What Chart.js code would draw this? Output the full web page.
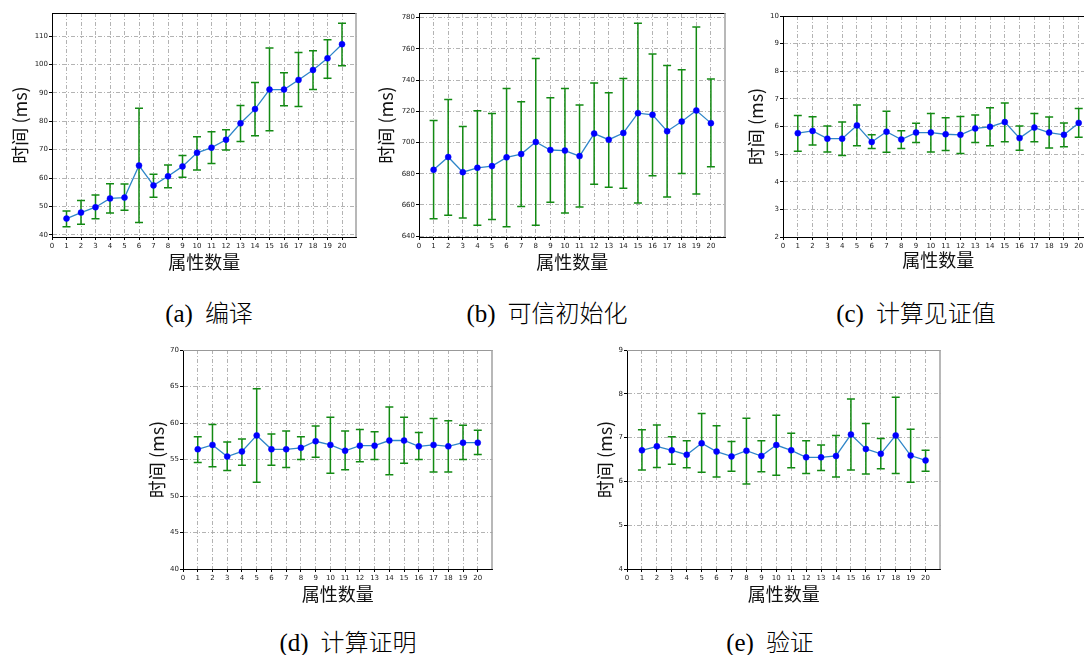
<!DOCTYPE html>
<html>
<head>
<meta charset="utf-8">
<script src="https://cdn.jsdelivr.net/npm/chart.js@4.4.1/dist/chart.umd.min.js"></script>
<style>
  html, body { margin: 0; padding: 0; background: #fff; }
  body { position: relative; width: 1084px; height: 655px; overflow: hidden; }
  canvas { position: absolute; }
  .cap { position: absolute; transform: translate(-50%, -50%); white-space: nowrap;
         font-family: "Liberation Serif", "Noto Sans CJK SC", serif; font-size: 25px; color: #000; }
  .cap .zh { font-family: "Noto Sans CJK SC", sans-serif; font-size: 24px; font-weight: 300; margin-left: 12px; }
</style>
</head>
<body>
<canvas id="cA"></canvas>
<canvas id="cB"></canvas>
<canvas id="cC"></canvas>
<canvas id="cD"></canvas>
<canvas id="cE"></canvas>
<div class="cap" style="left:209px;top:311px">(a)<span class="zh">编译</span></div>
<div class="cap" style="left:547px;top:311px">(b)<span class="zh">可信初始化</span></div>
<div class="cap" style="left:916px;top:311px">(c)<span class="zh">计算见证值</span></div>
<div class="cap" style="left:348px;top:640px">(d)<span class="zh">计算证明</span></div>
<div class="cap" style="left:770px;top:640px">(e)<span class="zh">验证</span></div>
<script>
// Number of attributes (x axis)
const ATTR_COUNTS = [1, 2, 3, 4, 5, 6, 7, 8, 9, 10, 11, 12, 13, 14, 15, 16, 17, 18, 19, 20];
const X_TICKS = [0, 1, 2, 3, 4, 5, 6, 7, 8, 9, 10, 11, 12, 13, 14, 15, 16, 17, 18, 19, 20];

// (a) 编译
const COMPILE_MEAN = [45.7, 47.8, 49.7, 52.8, 53.1, 64.4, 57.4, 60.6, 64.1, 68.9, 70.7, 73.5, 79.3, 84.3, 91.2, 91.2, 94.6, 98.1, 102.2, 107.2];
const COMPILE_LOW  = [42.8, 43.7, 45.6, 47.7, 48.6, 44.3, 53.2, 56.6, 60.3, 62.8, 65.1, 69.9, 72.9, 74.9, 76.7, 85.5, 85.2, 91.2, 95.2, 99.6];
const COMPILE_HIGH = [48.4, 52.1, 54.0, 58.0, 57.9, 84.6, 61.3, 64.6, 67.9, 74.6, 76.3, 77.0, 85.6, 93.7, 105.9, 97.1, 104.3, 104.9, 108.8, 114.6];
const COMPILE_TICKS = [40, 50, 60, 70, 80, 90, 100, 110];

// (b) 可信初始化
const SETUP_MEAN = [682.5, 690.7, 681.0, 683.8, 684.9, 690.5, 692.6, 700.3, 695.2, 694.8, 691.3, 705.7, 701.8, 706.1, 718.8, 717.7, 707.2, 713.4, 720.5, 712.4];
const SETUP_LOW  = [651.2, 653.5, 651.6, 647.1, 650.7, 646.0, 659.1, 647.1, 661.7, 654.8, 658.7, 673.3, 671.4, 670.7, 661.3, 678.7, 665.1, 680.2, 667.1, 684.4];
const SETUP_HIGH = [714.1, 727.6, 710.2, 720.3, 718.6, 734.5, 726.1, 753.8, 728.7, 734.5, 724.0, 738.1, 731.9, 740.9, 776.4, 756.6, 749.3, 746.5, 774.0, 740.7];
const SETUP_TICKS = [640, 660, 680, 700, 720, 740, 760, 780];

// (c) 计算见证值
const WITNESS_MEAN = [5.76, 5.84, 5.56, 5.56, 6.04, 5.44, 5.81, 5.53, 5.78, 5.78, 5.72, 5.70, 5.93, 5.99, 6.16, 5.58, 5.96, 5.78, 5.70, 6.13];
const WITNESS_LOW  = [5.10, 5.33, 5.08, 4.95, 5.30, 5.20, 5.07, 5.20, 5.42, 5.08, 5.13, 5.02, 5.42, 5.30, 5.45, 5.14, 5.45, 5.22, 5.27, 5.61];
const WITNESS_HIGH = [6.40, 6.35, 6.02, 6.16, 6.78, 5.70, 6.55, 5.85, 6.12, 6.47, 6.32, 6.36, 6.42, 6.68, 6.85, 6.02, 6.47, 6.34, 6.13, 6.65];
const WITNESS_TICKS = [2, 3, 4, 5, 6, 7, 8, 9, 10];

// (d) 计算证明
const PROVE_MEAN = [56.4, 57.0, 55.4, 56.1, 58.3, 56.4, 56.4, 56.6, 57.5, 57.0, 56.2, 56.9, 56.9, 57.6, 57.6, 56.8, 57.0, 56.8, 57.3, 57.3];
const PROVE_LOW  = [54.6, 54.0, 53.5, 54.2, 51.9, 54.2, 53.9, 55.0, 55.3, 53.1, 53.6, 54.7, 55.0, 52.9, 54.5, 55.0, 53.3, 53.3, 55.0, 55.7];
const PROVE_HIGH = [58.1, 59.8, 57.4, 57.8, 64.7, 58.5, 58.9, 58.1, 59.6, 60.8, 58.9, 59.1, 58.8, 62.2, 60.8, 58.7, 60.6, 60.3, 59.7, 59.0];
const PROVE_TICKS = [40, 45, 50, 55, 60, 65, 70];

// (e) 验证
const VERIFY_MEAN = [6.71, 6.80, 6.71, 6.61, 6.87, 6.68, 6.57, 6.70, 6.58, 6.83, 6.71, 6.55, 6.55, 6.58, 7.07, 6.74, 6.63, 7.05, 6.59, 6.48];
const VERIFY_LOW  = [6.26, 6.32, 6.39, 6.31, 6.21, 6.10, 6.23, 5.94, 6.22, 6.14, 6.31, 6.18, 6.25, 6.10, 6.26, 6.17, 6.29, 6.18, 5.98, 6.23];
const VERIFY_HIGH = [7.18, 7.29, 7.02, 6.93, 7.55, 7.27, 6.91, 7.44, 6.93, 7.51, 7.10, 6.93, 6.83, 7.05, 7.88, 7.32, 6.98, 7.92, 7.19, 6.71];
const VERIFY_TICKS = [4, 5, 6, 7, 8, 9];

const X_TITLE = '属性数量';
const Y_TITLE = '时间 (ms)';

Chart.defaults.font.family = '"DejaVu Sans", sans-serif';
Chart.defaults.color = '#222';

// Vertical error bars with caps, drawn beneath the line and markers
const errorBarPlugin = {
  id: 'errorBars',
  beforeDatasetsDraw(chart) {
    const { ctx, scales: { x, y } } = chart;
    const ds = chart.data.datasets[0];
    ctx.save();
    ctx.strokeStyle = '#138a13';
    ctx.lineWidth = 1.5;
    ds.data.forEach((p, i) => {
      const px = x.getPixelForValue(p.x);
      const yLo = y.getPixelForValue(ds.errLow[i]);
      const yHi = y.getPixelForValue(ds.errHigh[i]);
      ctx.beginPath();
      ctx.moveTo(px, yLo); ctx.lineTo(px, yHi);
      ctx.moveTo(px - 4, yLo); ctx.lineTo(px + 4, yLo);
      ctx.moveTo(px - 4, yHi); ctx.lineTo(px + 4, yHi);
      ctx.stroke();
    });
    ctx.restore();
  }
};

// Top and right frame lines of the plotting area
const framePlugin = {
  id: 'frame',
  afterDraw(chart) {
    const { ctx, chartArea: a } = chart;
    const topColor = chart.config.options.frameTop || '#000';
    ctx.save();
    ctx.lineWidth = 1;
    ctx.strokeStyle = topColor;
    ctx.beginPath(); ctx.moveTo(a.left, a.top + 0.5); ctx.lineTo(a.right, a.top + 0.5); ctx.stroke();
    ctx.strokeStyle = '#a0a0a0';
    ctx.lineWidth = 1.5;
    ctx.beginPath(); ctx.moveTo(a.right - 0.5, a.top); ctx.lineTo(a.right - 0.5, a.bottom); ctx.stroke();
    ctx.restore();
  }
};

function makePanel(id, box, series, yRange, yTicks, titlePad) {
  const canvas = document.getElementById(id);
  const Y_W = 60, X_H = 40, PAD_T = 6, PAD_R = 4;
  const width = (box.r - box.l) + Y_W + PAD_R;
  const height = (box.b - box.t) + PAD_T + X_H;
  canvas.width = width; canvas.height = height;
  canvas.style.width = width + 'px'; canvas.style.height = height + 'px';
  canvas.style.left = (box.l - Y_W) + 'px';
  canvas.style.top = (box.t - PAD_T) + 'px';

  const grid = {
    color: '#aaaaaa', lineWidth: 0.9,
    drawTicks: true, tickLength: 3, tickColor: '#000', tickWidth: 1, tickBorderDash: []
  };
  const border = { display: true, color: '#000', width: 1, dash: [4, 2, 1, 2] };

  new Chart(canvas, {
    type: 'line',
    data: {
      datasets: [{
        data: ATTR_COUNTS.map((v, i) => ({ x: v, y: series.mean[i] })),
        errLow: series.low,
        errHigh: series.high,
        borderColor: '#2f86c8',
        borderWidth: 1.3,
        tension: 0,
        pointRadius: 3,
        pointBackgroundColor: '#0000ff',
        pointBorderColor: '#0000ff',
        pointBorderWidth: 0.5,
        fill: false
      }]
    },
    options: {
      responsive: false,
      animation: false,
      devicePixelRatio: 1,
      frameTop: box.top || '#000',
      layout: { padding: { top: PAD_T, right: PAD_R, left: 0, bottom: 0 } },
      plugins: { legend: { display: false }, tooltip: { enabled: false } },
      scales: {
        x: {
          type: 'linear', min: 0, max: 21,
          afterBuildTicks: s => { s.ticks = X_TICKS.map(v => ({ value: v })); },
          afterFit: s => { s.height = X_H; },
          ticks: { autoSkip: false, maxRotation: 0, padding: 2, font: { size: 7 }, color: '#1a1a1a',
                   callback: v => String(v) },
          grid, border,
          title: { display: true, text: X_TITLE, color: '#111',
                   font: { family: '"Noto Sans CJK SC", sans-serif', size: 18, lineHeight: 1.2 },
                   padding: { top: 0, bottom: titlePad.x } }
        },
        y: {
          type: 'linear', min: yRange[0], max: yRange[1],
          afterBuildTicks: s => { s.ticks = yTicks.map(v => ({ value: v })); },
          afterFit: s => { s.width = Y_W; },
          ticks: { padding: 1, font: { size: 7 }, color: '#1a1a1a', callback: v => String(v) },
          grid, border,
          title: { display: true, text: Y_TITLE, color: '#111',
                   font: { family: '"Noto Sans CJK SC", sans-serif', size: 18, lineHeight: 1.2 },
                   padding: { top: titlePad.y, bottom: 0 } }
        }
      }
    },
    plugins: [errorBarPlugin, framePlugin]
  });
}

makePanel('cA', { l: 52, t: 13, r: 357, b: 237 },
  { mean: COMPILE_MEAN, low: COMPILE_LOW, high: COMPILE_HIGH }, [39.2, 118.2], COMPILE_TICKS, { x: 4.2, y: 17.2 });
makePanel('cB', { l: 419, t: 13, r: 726, b: 237 },
  { mean: SETUP_MEAN, low: SETUP_LOW, high: SETUP_HIGH }, [639.5, 782.9], SETUP_TICKS, { x: 4.2, y: 16.7 });
makePanel('cC', { l: 783, t: 16, r: 1094, b: 237 },
  { mean: WITNESS_MEAN, low: WITNESS_LOW, high: WITNESS_HIGH }, [2, 10], WITNESS_TICKS, { x: 6.2, y: 22.2 });
makePanel('cD', { l: 183, t: 350, r: 493, b: 569, top: '#999' },
  { mean: PROVE_MEAN, low: PROVE_LOW, high: PROVE_HIGH }, [40, 70], PROVE_TICKS, { x: 4.2, y: 22.9 });
makePanel('cE', { l: 627, t: 350, r: 941, b: 569, top: '#999' },
  { mean: VERIFY_MEAN, low: VERIFY_LOW, high: VERIFY_HIGH }, [4, 9], VERIFY_TICKS, { x: 4.2, y: 27.2 });
</script>
</body>
</html>
